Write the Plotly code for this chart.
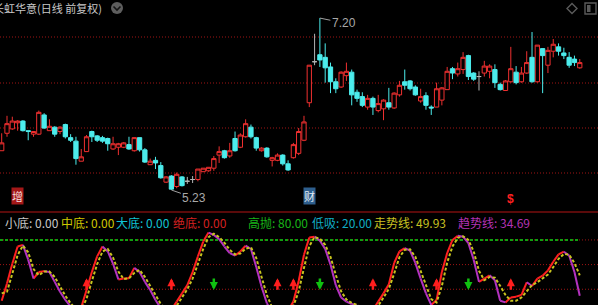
import plotly.graph_objects as go

W, H = 598, 305

# ---------------- data ----------------
title_text = "长虹华意(日线 前复权)"

opens = [5.68, 5.88, 5.93, 6.00, 6.02, 5.91, 5.87, 5.87, 6.09, 5.91,
         5.95, 5.90, 5.98, 5.83, 5.79, 5.56, 5.67, 5.90, 5.85, 5.83,
         5.82, 5.70, 5.72, 5.72, 5.75, 5.68, 5.83, 5.69, 5.52, 5.57,
         5.51, 5.32, 5.39, 5.27, 5.38, 5.33, 5.35, 5.35, 5.44, 5.45,
         5.48, 5.63, 5.68, 5.62, 5.82, 5.72, 5.84, 5.95, 5.83, 5.68,
         5.71, 5.57, 5.57, 5.63, 5.53, 5.60, 5.65, 5.80, 6.23, 6.70,
         6.78, 6.75, 6.64, 6.47, 6.41, 6.54, 6.58, 6.35, 6.30, 6.18,
         6.28, 6.14, 6.16, 6.23, 6.17, 6.32, 6.47, 6.48, 6.41, 6.25,
         6.31, 6.18, 6.18, 6.26, 6.38, 6.62, 6.56, 6.61, 6.77, 6.57,
         6.53, 6.57, 6.59, 6.61, 6.44, 6.37, 6.47, 6.58, 6.47, 6.57,
         6.75, 6.47, 6.85, 6.66, 6.82, 6.87, 6.80, 6.75, 6.73, 6.63]
highs = [5.88, 6.08, 6.07, 6.03, 6.03, 5.91, 5.90, 6.14, 6.11, 6.04,
         5.96, 5.96, 5.99, 5.87, 5.84, 5.70, 5.86, 5.91, 5.86, 5.85,
         5.83, 5.84, 5.77, 5.78, 5.84, 5.83, 5.83, 5.71, 5.59, 5.61,
         5.55, 5.39, 5.40, 5.43, 5.39, 5.38, 5.39, 5.47, 5.48, 5.49,
         5.62, 5.73, 5.69, 5.77, 5.90, 5.88, 6.04, 5.98, 5.84, 5.72,
         5.72, 5.61, 5.65, 5.64, 5.57, 5.77, 5.94, 6.08, 6.66, 7.02,
         7.20, 6.91, 6.69, 6.51, 6.59, 6.69, 6.61, 6.38, 6.35, 6.32,
         6.30, 6.32, 6.27, 6.40, 6.35, 6.48, 6.61, 6.49, 6.43, 6.39,
         6.35, 6.20, 6.46, 6.41, 6.64, 6.64, 6.69, 6.81, 6.78, 6.58,
         6.59, 6.71, 6.67, 6.67, 6.46, 6.49, 6.87, 6.65, 6.64, 6.82,
         7.04, 6.89, 6.85, 6.87, 6.96, 6.91, 6.86, 6.81, 6.77, 6.73]
lows = [5.68, 5.84, 5.92, 5.91, 5.90, 5.80, 5.84, 5.86, 5.93, 5.91,
        5.84, 5.87, 5.82, 5.78, 5.52, 5.56, 5.67, 5.78, 5.78, 5.77,
        5.68, 5.69, 5.63, 5.71, 5.69, 5.67, 5.67, 5.54, 5.52, 5.47,
        5.36, 5.31, 5.23, 5.25, 5.27, 5.30, 5.31, 5.33, 5.44, 5.44,
        5.45, 5.54, 5.59, 5.60, 5.67, 5.71, 5.83, 5.82, 5.68, 5.67,
        5.60, 5.50, 5.56, 5.51, 5.45, 5.59, 5.63, 5.79, 6.18, 6.66,
        6.64, 6.46, 6.34, 6.34, 6.40, 6.48, 6.20, 6.24, 6.18, 6.15,
        6.09, 6.12, 6.03, 6.15, 6.16, 6.30, 6.38, 6.37, 6.31, 6.23,
        6.15, 6.09, 6.18, 6.20, 6.38, 6.50, 6.53, 6.56, 6.49, 6.48,
        6.37, 6.53, 6.51, 6.40, 6.37, 6.37, 6.46, 6.44, 6.46, 6.56,
        6.46, 6.46, 6.34, 6.57, 6.75, 6.77, 6.73, 6.63, 6.65, 6.62]
closes = [5.77, 5.99, 6.02, 6.02, 5.91, 5.90, 5.90, 6.12, 5.94, 5.96,
          5.87, 5.95, 5.84, 5.80, 5.59, 5.61, 5.84, 5.84, 5.80, 5.79,
          5.76, 5.76, 5.76, 5.77, 5.70, 5.83, 5.69, 5.55, 5.56, 5.54,
          5.37, 5.38, 5.24, 5.41, 5.28, 5.33, 5.35, 5.47, 5.48, 5.49,
          5.59, 5.67, 5.60, 5.68, 5.68, 5.86, 5.99, 5.84, 5.71, 5.71,
          5.61, 5.60, 5.63, 5.53, 5.46, 5.75, 5.90, 6.01, 6.66, 6.70,
          6.72, 6.63, 6.47, 6.39, 6.58, 6.59, 6.32, 6.28, 6.20, 6.28,
          6.18, 6.22, 6.26, 6.18, 6.34, 6.43, 6.43, 6.39, 6.32, 6.30,
          6.20, 6.17, 6.39, 6.40, 6.59, 6.57, 6.62, 6.75, 6.53, 6.50,
          6.53, 6.65, 6.65, 6.46, 6.38, 6.48, 6.62, 6.46, 6.57, 6.69,
          6.47, 6.89, 6.77, 6.83, 6.90, 6.82, 6.77, 6.66, 6.69, 6.69]

# 趋势线 (trend) and 走势线 (walk) values per bar
trend = [6, 27, 51, 72, 74, 56, 33, 41, 42, 41,
         29, 17, 7, -1, -8, -2, 19, 41, 60, 72,
         66, 51, 32, 33, 33.5, 46, 41, 29, 19, 7,
         -3, -8, -5, 5, 15, 25, 41, 60, 78, 89,
         86, 81, 72, 64, 61, 66, 73, 69, 47, 23,
         3, -8, -12, -10, -6, 5, 30, 62, 83, 84,
         79, 69, 50, 25, 10, 5, 2, 0, -5, -8,
         -5, 5, 15, 26, 52, 66, 70, 67, 52, 33,
         15, 1, 7, 41, 64, 80, 85, 84, 76, 56,
         29, 33, 37, 31, 6, 4, 10, 11, 13, 28.5,
         24, 33, 36.5, 43, 53.5, 62.5, 65.7, 61, 41, 12]
walk = [15, 17, 39, 61.5, 73, 65, 44.5, 37, 41.5, 41.5,
        35, 23, 12, 3, -4.5, -5, 8.5, 30, 50.5, 66,
        69, 58.5, 41.5, 32.5, 33.3, 39.8, 43.5, 35, 24, 13,
        2, -5.5, -6.5, 0, 10, 20, 33, 50.5, 69, 83.5,
        87.5, 83.5, 76.5, 68, 62.5, 63.5, 69.5, 71, 58, 35,
        13, -2.5, -10, -11, -8, -0.5, 17.5, 46, 72.5, 83.5,
        81.5, 74, 59.5, 37.5, 17.5, 7.5, 3.5, 1, -2.5, -6.5,
        -6.5, 0, 10, 20.5, 39, 59, 68, 68.5, 59.5, 42.5,
        24, 8, 4, 24, 52.5, 72, 82.5, 84.5, 80, 66,
        42.5, 31, 35, 34, 24, 13, 6, 6, 10, 17,
        25, 28.5, 33, 38, 47, 57, 63, 62, 52, 37]

buy_signals = [16, 32, 52, 55, 70, 82, 96]
sell_signals = [40, 60, 88]

high_bar, high_label = 60, "7.20"
low_bar, low_label = 32, "5.23"

mark_bars = [3, 58, 96]
mark_texts = ["增", "财", "<b>$</b>"]

legend_names = ["小底", "中底", "大底", "绝底", "高抛", "低吸", "走势线", "趋势线"]
legend_values = [0.00, 0.00, 0.00, 0.00, 80.00, 20.00, 49.93, 34.69]
legend_colors = ["#c8c8c8", "#cfc800", "#10c4d4", "#d42020", "#18b418", "#10acc4", "#c8c020", "#b432b4"]
legend_px = [3, 59, 114, 171, 246, 310, 372, 456]

level_high, level_mid, level_low = 80, 50, 20

# ---------------- helpers ----------------
def px(x):
    return x / W

def py(y):
    return 1 - y / H

CJK = "Noto Sans CJK SC, sans-serif"
RED = "#f03030"
CYAN = "#4cecec"
GRAY = "#b4b4b4"
PURPLE = "#b432c0"

n = len(opens)
idx = list(range(n))

fig = go.Figure()

# ---------------- candles ----------------
up = [i for i in idx if closes[i] > opens[i]]
dn = [i for i in idx if closes[i] < opens[i]]
flat = [i for i in idx if closes[i] == opens[i]]
for sel, lc, fc in [(up, RED, "#000000"), (dn, CYAN, CYAN), (flat, GRAY, GRAY)]:
    fig.add_trace(go.Candlestick(
        x=[idx[i] for i in sel],
        open=[opens[i] for i in sel], high=[highs[i] for i in sel],
        low=[lows[i] for i in sel], close=[closes[i] for i in sel],
        increasing=dict(line=dict(color=lc, width=1), fillcolor=fc),
        decreasing=dict(line=dict(color=lc, width=1), fillcolor=fc),
        whiskerwidth=0, showlegend=False, hoverinfo="skip",
        xaxis="x", yaxis="y"))

# ---------------- indicator ----------------
rx, ry, mx, my = [], [], [], []
for i in range(1, n):
    if trend[i] >= trend[i - 1]:
        rx += [i - 1, i, None]; ry += [trend[i - 1], trend[i], None]
    else:
        mx += [i - 1, i, None]; my += [trend[i - 1], trend[i], None]
fig.add_trace(go.Scatter(x=rx, y=ry, mode="lines", line=dict(color="#ff2020", width=2),
                         xaxis="x2", yaxis="y2", showlegend=False, hoverinfo="skip"))
fig.add_trace(go.Scatter(x=mx, y=my, mode="lines", line=dict(color=PURPLE, width=2),
                         xaxis="x2", yaxis="y2", showlegend=False, hoverinfo="skip"))
fig.add_trace(go.Scatter(x=idx, y=walk, mode="lines",
                         line=dict(color="#c8c41e", width=2, dash="3px,2px"),
                         xaxis="x2", yaxis="y2", showlegend=False, hoverinfo="skip"))

shapes = []
# top panel grid lines
for gy in [37, 83, 128, 173]:
    shapes.append(dict(type="line", xref="paper", yref="paper", x0=0, x1=1, y0=py(gy), y1=py(gy),
                       line=dict(color="#a01414", width=1, dash="1px,2px"), layer="below"))
# separator
shapes.append(dict(type="line", xref="paper", yref="paper", x0=0, x1=1, y0=py(212), y1=py(212),
                   line=dict(color="#b41414", width=1.2)))
# indicator levels (dotted grid underneath, green 高抛 line up to last bar)
for lv in [level_high, level_mid, level_low]:
    shapes.append(dict(type="line", xref="paper", yref="y2", x0=0, x1=1, y0=lv, y1=lv,
                       line=dict(color="#a01414", width=1, dash="1px,2px"), layer="below"))
shapes.append(dict(type="line", xref="x2", yref="y2", x0=-0.32, x1=n - 1, y0=level_high, y1=level_high,
                   line=dict(color="#10a010", width=2, dash="3px,2px"), layer="below"))
# title icon
shapes.append(dict(type="circle", xref="paper", yref="paper", x0=px(111), x1=px(123), y0=py(14), y1=py(2),
                   fillcolor="#5e5e5e", line=dict(width=0)))
shapes.append(dict(type="path", xref="paper", yref="paper",
                   path=f"M {px(113.5)},{py(6.5)} L {px(117)},{py(10)} L {px(120.5)},{py(6.5)}",
                   line=dict(color="#151515", width=1.6)))
# top-right icons
shapes.append(dict(type="path", xref="paper", yref="paper",
                   path=f"M {px(572)},{py(3.5)} L {px(577)},{py(8.5)} L {px(572)},{py(13.5)} L {px(567)},{py(8.5)} Z",
                   line=dict(color="#5a5a5a", width=1.4)))
shapes.append(dict(type="rect", xref="paper", yref="paper", x0=px(585), x1=px(596), y0=py(14), y1=py(3),
                   line=dict(color="#5a5a5a", width=1.4)))
shapes.append(dict(type="rect", xref="paper", yref="paper", x0=px(587), x1=px(590.5), y0=py(12), y1=py(5),
                   fillcolor="#5a5a5a", line=dict(width=0)))

ann = []
ann.append(dict(text=title_text, xref="paper", yref="paper", x=px(-9.5), y=py(8), xanchor="left",
                yanchor="middle", showarrow=False, font=dict(family=CJK, size=11, color="#c8c8c8")))
# high / low labels
ann.append(dict(text=high_label, xref="x", yref="y", x=high_bar, y=highs[high_bar], ax=24, ay=5,
                showarrow=True, arrowhead=0, arrowwidth=1, arrowcolor="#a0a0a0",
                font=dict(family="Liberation Sans, Arial", size=12, color="#a8a8a8")))
ann.append(dict(text=low_label, xref="x", yref="y", x=low_bar, y=lows[low_bar], ax=23, ay=8,
                showarrow=True, arrowhead=0, arrowwidth=1, arrowcolor="#a0a0a0",
                font=dict(family="Liberation Sans, Arial", size=12, color="#a8a8a8")))
# marks
mark_styles = [dict(bgcolor="#a41818", font=dict(family=CJK, size=11, color="#f4dede")),
               dict(bgcolor="#2e5f8e", font=dict(family=CJK, size=11, color="#e4ecf4")),
               dict(bgcolor="rgba(0,0,0,0)", font=dict(family="Liberation Sans, Arial", size=12, color="#ff2020"))]
mark_y = [205, 205, 207]
for b, t, st, yy in zip(mark_bars, mark_texts, mark_styles, mark_y):
    ann.append(dict(text=t, xref="x", yref="paper", x=b, y=py(yy), showarrow=False,
                    borderpad=0, **st))
# legend row
for name, val, col, lx in zip(legend_names, legend_values, legend_colors, legend_px):
    ann.append(dict(text=f"{name}: {val:.2f}", xref="paper", yref="paper", x=px(lx), y=py(222),
                    xanchor="left", yanchor="middle", showarrow=False,
                    font=dict(family=CJK, size=12, color=col)))
# signal arrows
for b in buy_signals:
    ann.append(dict(text="", xref="x2", yref="y2", x=b, y=33.5, ax=0, ay=13, showarrow=True,
                    arrowhead=2, arrowsize=0.65, arrowwidth=2.5, arrowcolor="#ff1e1e"))
for b in sell_signals:
    ann.append(dict(text="", xref="x2", yref="y2", x=b, y=19.0, ax=0, ay=-13, showarrow=True,
                    arrowhead=2, arrowsize=0.65, arrowwidth=2.5, arrowcolor="#10c010"))

xr = [-0.32, 112.44]
fig.update_layout(
    width=W, height=H,
    margin=dict(l=0, r=0, t=0, b=0, pad=0),
    paper_bgcolor="#000000", plot_bgcolor="#000000",
    showlegend=False, boxgap=0.05, boxgroupgap=0.15,
    xaxis=dict(domain=[0, 1], range=xr, visible=False, anchor="y", rangeslider=dict(visible=False)),
    yaxis=dict(domain=[py(212), 1], range=[4.978, 7.407], visible=False, anchor="x"),
    xaxis2=dict(domain=[0, 1], range=xr, visible=False, anchor="y2"),
    yaxis2=dict(domain=[0, py(212)], range=[0.85, 114], visible=False, anchor="x2"),
    shapes=shapes, annotations=ann,
)

fig.write_html("out.html")
